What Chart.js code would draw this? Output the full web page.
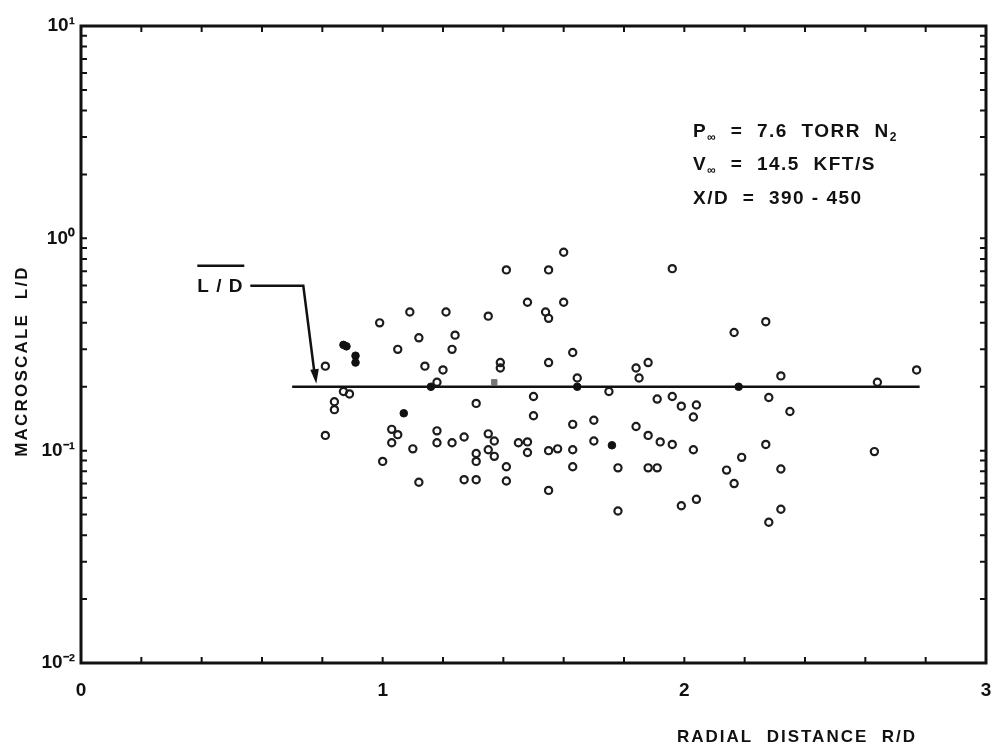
<!DOCTYPE html>
<html>
<head>
<meta charset="utf-8">
<script src="https://cdn.jsdelivr.net/npm/chart.js@4.4.0/dist/chart.umd.min.js"></script>
<style>
body { margin: 0; background: #fff; }
#wrap { width: 993px; height: 751px; }
</style>
</head>
<body>
<div id="wrap"><canvas id="graf"></canvas></div>
<script>
const graf = document.getElementById('graf')

// pontos abertos (circulos)
const openX = [1.60, 1.41, 1.55, 1.48, 1.60, 1.54, 1.55, 1.09, 1.21, 0.99, 1.35, 1.12, 1.24, 1.05, 1.23,
    1.14, 1.20, 1.55, 1.63, 1.39, 1.39, 1.18, 1.645, 0.87, 0.89, 0.84, 0.84, 1.50, 1.31, 1.50,
    1.63, 1.03, 1.05, 1.03, 1.18, 1.18, 1.23, 1.27, 1.35, 1.37, 1.45, 1.48, 1.10, 1.35, 1.37,
    1.31, 1.31, 1.48, 1.55, 1.58, 1.63, 1.00, 1.41, 1.63, 1.12, 1.27, 1.31, 1.41, 1.55, 1.96,
    2.165, 2.27, 1.84, 1.88, 1.85, 1.75, 2.32, 1.91, 1.96, 1.99, 2.04, 2.03, 2.28, 2.35, 1.70,
    1.84, 1.88, 1.70, 1.92, 1.96, 2.03, 2.27, 1.78, 1.88, 1.91, 2.19, 2.14, 2.32, 2.165, 1.78,
    1.99, 2.04, 2.32, 2.64, 2.77, 2.63, 0.81, 0.81, 2.28]
const openY = [0.86, 0.71, 0.71, 0.50, 0.50, 0.45, 0.42, 0.45, 0.45, 0.40, 0.43, 0.34, 0.35, 0.30, 0.30,
    0.25, 0.24, 0.26, 0.29, 0.26, 0.245, 0.21, 0.22, 0.19, 0.185, 0.17, 0.156, 0.18, 0.167, 0.146,
    0.133, 0.126, 0.119, 0.109, 0.124, 0.109, 0.109, 0.116, 0.120, 0.111, 0.109, 0.110, 0.102, 0.101, 0.094,
    0.097, 0.089, 0.098, 0.100, 0.102, 0.101, 0.089, 0.084, 0.084, 0.071, 0.073, 0.073, 0.072, 0.065, 0.72,
    0.36, 0.405, 0.245, 0.26, 0.22, 0.19, 0.225, 0.175, 0.18, 0.162, 0.164, 0.144, 0.178, 0.153, 0.139,
    0.130, 0.118, 0.111, 0.110, 0.107, 0.101, 0.107, 0.083, 0.083, 0.083, 0.093, 0.081, 0.082, 0.070, 0.052,
    0.055, 0.059, 0.053, 0.21, 0.24, 0.099, 0.25, 0.118, 0.046]

// pontos cheios
const filledX = [0.87, 0.88, 0.91, 0.91, 1.16, 1.645, 1.07, 2.18, 1.76]
const filledY = [0.315, 0.31, 0.28, 0.26, 0.20, 0.20, 0.15, 0.20, 0.106]

// quadrado cinza
const squareX = [1.37]
const squareY = [0.21]

// linha media L/D
const meanX = [0.70, 2.78]
const meanY = [0.20, 0.20]

const yLabels = { '-2': '10\u207B\u00B2', '-1': '10\u207B\u00B9', '0': '10\u2070', '1': '10\u00B9' }
const yTickVals = []
for (let e = -2; e <= 0; e++) {
    for (let m = 1; m <= 9; m++) yTickVals.push(+(m * Math.pow(10, e)).toPrecision(3))
}
yTickVals.push(10)

const par = (xs, ys) => xs.map((v, i) => ({ x: v, y: ys[i] }))

const FONTE = '"Liberation Sans", Arial, sans-serif'

function linha(ctx, x0, yb, partes) {
    let x = x0
    partes.forEach(([txt, sub]) => {
        ctx.font = sub ? 'bold 12px ' + FONTE : 'bold 19px ' + FONTE
        ctx.fillText(txt, x, yb + (sub ? 4 : 0))
        x += ctx.measureText(txt).width
    })
}

const moldura = {
    id: 'moldura',
    afterDraw(chart) {
        const { ctx, chartArea: a, scales: { x, y } } = chart
        ctx.save()
        ctx.strokeStyle = '#111'
        ctx.fillStyle = '#111'
        ctx.lineWidth = 3
        ctx.strokeRect(a.left, a.top, a.right - a.left, a.bottom - a.top)

        // marcas para dentro
        ctx.lineWidth = 2
        ctx.beginPath()
        y.ticks.forEach(t => {
            const py = y.getPixelForValue(t.value)
            ctx.moveTo(a.left, py); ctx.lineTo(a.left + 6, py)
            ctx.moveTo(a.right, py); ctx.lineTo(a.right - 6, py)
        })
        x.ticks.forEach(t => {
            const px = x.getPixelForValue(t.value)
            ctx.moveTo(px, a.bottom); ctx.lineTo(px, a.bottom - 6)
            ctx.moveTo(px, a.top); ctx.lineTo(px, a.top + 6)
        })
        ctx.stroke()

        // titulos dos eixos
        ctx.textBaseline = 'middle'
        ctx.font = 'bold 17px ' + FONTE
        ctx.letterSpacing = '2px'
        ctx.textAlign = 'right'
        ctx.fillText('RADIAL  DISTANCE  R/D', 917, 737)

        ctx.save()
        ctx.translate(22, 361)
        ctx.rotate(-Math.PI / 2)
        ctx.textAlign = 'center'
        ctx.letterSpacing = '2.2px'
        ctx.fillText('MACROSCALE  L/D', 0, 0)
        ctx.restore()

        // condicoes do ensaio
        ctx.textAlign = 'left'
        ctx.textBaseline = 'alphabetic'
        ctx.letterSpacing = '1.5px'
        linha(ctx, 693, 137, [['P', false], ['\u221E', true], ['  =  7.6  TORR  N', false], ['2', true]])
        linha(ctx, 693, 170, [['V', false], ['\u221E', true], ['  =  14.5  KFT/S', false]])
        linha(ctx, 693, 204, [['X/D  =  390 - 450', false]])

        // rotulo L/D com seta
        const tx = x.getPixelForValue(0.78)
        const ty = y.getPixelForValue(0.2) - 3
        ctx.font = 'bold 19px ' + FONTE
        ctx.letterSpacing = '1px'
        ctx.textBaseline = 'middle'
        ctx.fillText('L / D', tx - 119, ty - 97)
        ctx.lineWidth = 2.5
        ctx.beginPath()
        ctx.moveTo(tx - 119, ty - 118); ctx.lineTo(tx - 72, ty - 118)
        ctx.moveTo(tx - 66, ty - 98); ctx.lineTo(tx - 13, ty - 98); ctx.lineTo(tx - 2, ty - 12)
        ctx.stroke()
        ctx.beginPath()
        ctx.moveTo(tx, ty)
        ctx.lineTo(tx + 2.5, ty - 15)
        ctx.lineTo(tx - 6, ty - 14)
        ctx.closePath()
        ctx.fill()
        ctx.restore()
    }
}

Chart.defaults.color = '#111'

new Chart(graf, {
    type: 'scatter',
    data: {
        datasets: [{
            data: par(meanX, meanY),
            showLine: true,
            borderColor: '#111',
            borderWidth: 2.5,
            pointRadius: 0
        }, {
            data: par(openX, openY),
            pointStyle: 'circle',
            pointRadius: 3.6,
            borderWidth: 2.2,
            borderColor: '#1c1c1c',
            backgroundColor: 'rgba(255,255,255,0)'
        }, {
            data: par(filledX, filledY),
            pointRadius: 3.8,
            borderColor: '#111',
            backgroundColor: '#111'
        }, {
            data: par(squareX, squareY),
            pointStyle: 'rect',
            pointRadius: 3.8,
            borderColor: '#777',
            backgroundColor: '#777'
        }]
    },
    options: {
        responsive: true,
        maintainAspectRatio: false,
        animation: false,
        layout: { padding: { top: 26, right: 7, left: 0, bottom: 0 } },
        plugins: {
            legend: { display: false },
            tooltip: { enabled: false }
        },
        scales: {
            x: {
                type: 'linear',
                min: 0,
                max: 3,
                afterFit: s => { s.height = 88; s.paddingLeft = 0; s.paddingRight = 0 },
                grid: { display: false, drawTicks: false },
                border: { display: false },
                ticks: {
                    stepSize: 0.2,
                    autoSkip: false,
                    maxRotation: 0,
                    padding: 16,
                    font: { family: FONTE, size: 19, weight: 'bold' },
                    callback: v => Math.abs(v - Math.round(v)) < 1e-6 ? String(Math.round(v)) : ''
                }
            },
            y: {
                type: 'logarithmic',
                min: 0.01,
                max: 10,
                afterFit: s => { s.width = 81; s.paddingTop = 0; s.paddingBottom = 0 },
                afterBuildTicks: s => { s.ticks = yTickVals.map(v => ({ value: v })) },
                grid: { display: false, drawTicks: false },
                border: { display: false },
                ticks: {
                    autoSkip: false,
                    padding: 6,
                    font: { family: FONTE, size: 19, weight: 'bold' },
                    callback: v => {
                        const e = Math.log10(v)
                        return Math.abs(e - Math.round(e)) < 1e-6 ? yLabels[String(Math.round(e))] : ''
                    }
                }
            }
        }
    },
    plugins: [moldura]
})
</script>
</body>
</html>
